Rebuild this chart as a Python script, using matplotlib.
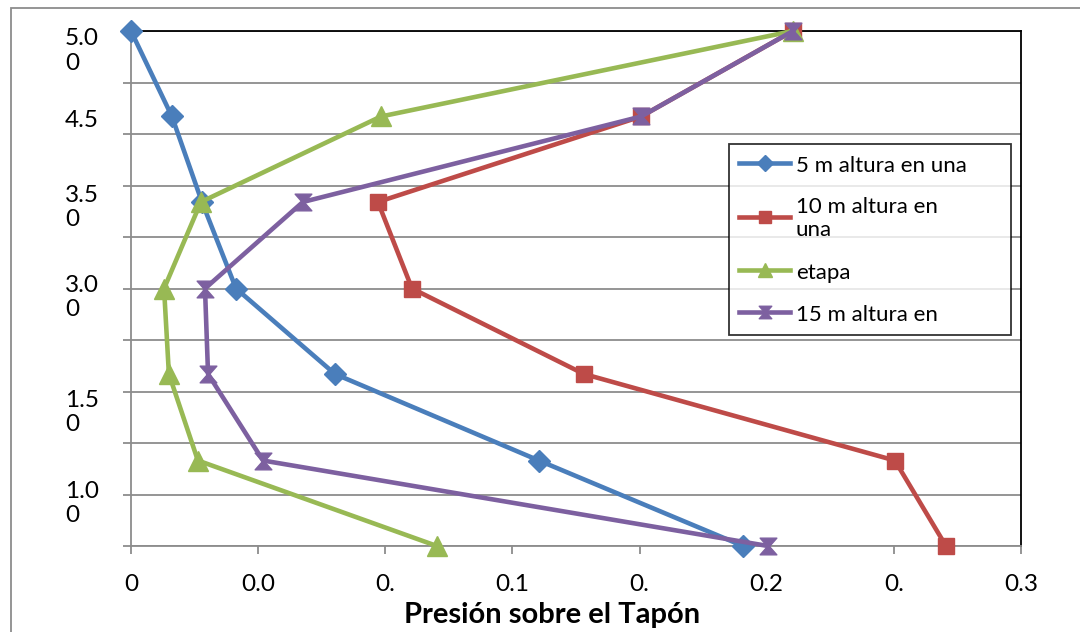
import matplotlib
matplotlib.use("Agg")
import matplotlib.pyplot as plt
from matplotlib.path import Path
from matplotlib.patches import Rectangle

plt.rcParams['font.family'] = ['Lato', 'DejaVu Sans']

# Nivel de cada lectura (eje vertical)
altura = [5.0, 4.17, 3.34, 2.5, 1.67, 0.83, 0.0]

# Presión sobre el tapón para cada serie
presion_5m = [0.0, 0.0161, 0.0279, 0.0413, 0.0802, 0.1604, 0.2407]
presion_10m = [0.2603, 0.2006, 0.0971, 0.1105, 0.1781, 0.3004, 0.3205]
presion_etapa = [0.2603, 0.0983, 0.0275, 0.0130, 0.0149, 0.0263, 0.1203]
presion_15m = [0.2603, 0.2006, 0.0676, 0.0291, 0.0303, 0.0519, 0.2505]

etiquetas_serie = ["5 m altura en una", "10 m altura en\nuna", "etapa", "15 m altura en"]

# Ejes: marcas y textos tal como quedaron recortados
x_ticks = [0, 0.05, 0.10, 0.15, 0.20, 0.25, 0.30, 0.35]
x_labels = ["0", "0.0", "0.", "0.1", "0.", "0.2", "0.", "0.3"]
y_grid = [0, 0.5, 1.0, 1.5, 2.0, 2.5, 3.0, 3.5, 4.0, 4.5, 5.0]
y_label_pos = [4.84, 4.155, 3.325, 2.45, 1.33, 0.45]
y_labels = ["5.0\n0", "4.5", "3.5\n0", "3.0\n0", "1.5\n0", "1.0\n0"]

# marcador tipo reloj de arena
reloj = Path([(-1, 1), (1, 1), (0.12, 0), (1, -1), (-1, -1), (-0.12, 0), (-1, 1)],
             [Path.MOVETO] + [Path.LINETO] * 5 + [Path.CLOSEPOLY])

fig = plt.figure(figsize=(10.8, 6.32), dpi=100)
ax = fig.add_axes([131 / 1080, 1 - 546 / 632, 890 / 1080, 515 / 632])

# borde del área del gráfico
fig.patches.append(Rectangle((11 / 1080, -0.1), 1.2, 1 - 8 / 632 + 0.1, transform=fig.transFigure,
                             fill=False, edgecolor='#8c8c8c', linewidth=1.3))

lw = 3.3
ax.plot(presion_5m, altura, color='#4a7ebb', lw=lw, marker='D', ms=11, label=etiquetas_serie[0],
        zorder=3, clip_on=False)
ax.plot(presion_10m, altura, color='#be4b48', lw=lw, marker='s', ms=12, label=etiquetas_serie[1],
        zorder=3, clip_on=False)
ax.plot(presion_etapa, altura, color='#98b954', lw=lw, marker='^', ms=14, label=etiquetas_serie[2],
        zorder=3, clip_on=False)
ax.plot(presion_15m, altura, color='#7d60a0', lw=lw, marker=reloj, ms=12, label=etiquetas_serie[3],
        zorder=3, clip_on=False)

ax.set_xlim(0, 0.35)
ax.set_ylim(0, 5.0)
ax.set_xticks(x_ticks)
ax.set_xticklabels(x_labels, fontsize=17.5)
ax.set_yticks(y_grid)
ax.set_yticklabels([])
ax.set_yticks(y_label_pos, minor=True)
ax.set_yticklabels(y_labels, minor=True, fontsize=17.5)
for t in ax.get_yticklabels(minor=True):
    t.set_multialignment('left')
    t.set_linespacing(1.2)

ax.tick_params(axis='y', which='major', direction='out', length=5.5, width=1.3, color='#8c8c8c')
ax.tick_params(axis='y', which='minor', length=0, pad=23)
ax.tick_params(axis='x', direction='out', length=5.5, width=1.3, color='#8c8c8c', pad=15)
ax.grid(axis='y', which='major', color='#8c8c8c', lw=1.3, zorder=0)
ax.set_axisbelow(True)

for s in ['left', 'bottom']:
    ax.spines[s].set_color('#8c8c8c')
    ax.spines[s].set_linewidth(1.3)
for s in ['top', 'right']:
    ax.spines[s].set_color('black')
    ax.spines[s].set_linewidth(1.3)

ax.set_xlabel("Presión sobre el Tapón", fontsize=21, fontweight='bold')
ax.xaxis.set_label_coords((552 - 131) / 890, -0.108)

leg = ax.legend(loc='upper left', bbox_to_anchor=(729 / 1080, 1 - 349 / 632, 282 / 1080, 205 / 632),
                bbox_transform=fig.transFigure, mode='expand', borderaxespad=0,
                fontsize=16, frameon=True, fancybox=False, edgecolor='black',
                handlelength=2.3, handletextpad=0.25, handleheight=1.0, labelspacing=0.95,
                borderpad=0.45, markerscale=0.75)
leg.get_frame().set_linewidth(1.3)

fig.savefig("out.png", dpi=100)
